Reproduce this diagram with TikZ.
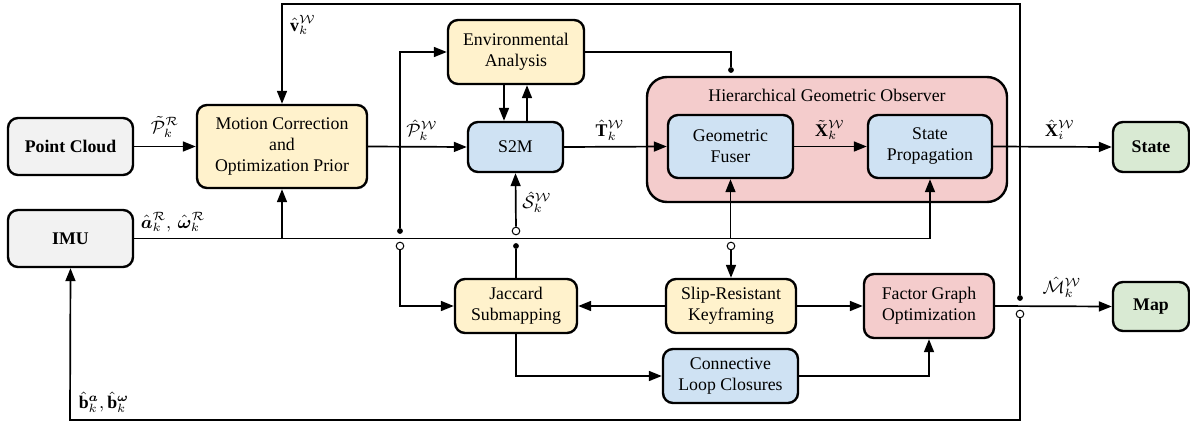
\documentclass[tikz,border=0pt]{standalone}
\usepackage{amsmath,bm}
\usepackage{fontspec}
\setmainfont{Liberation Serif}
\usetikzlibrary{arrows.meta,calc}
\definecolor{cgray}{HTML}{F2F2F2}
\definecolor{cyel}{HTML}{FFF2CC}
\definecolor{cblue}{HTML}{CFE2F3}
\definecolor{cpink}{HTML}{F4CCCC}
\definecolor{cgreen}{HTML}{D9EAD3}
\begin{document}
\begin{tikzpicture}[x=0.5pt,y=-0.5pt,
 box/.style={draw=black,line width=1.2pt,rounded corners=5pt,align=center,inner sep=0pt,font=\fontsize{8.9}{10.5}\selectfont},
 conn/.style={line width=0.85pt},
 arr/.style={conn,-{Triangle[length=6.5pt,width=5pt]}},
 fdot/.style={circle,fill=black,inner sep=0pt,minimum size=2.9pt},
 odot/.style={circle,draw=black,fill=white,line width=0.5pt,inner sep=0pt,minimum size=3.8pt},
 lbl/.style={font=\fontsize{8.9}{10.5}\selectfont,inner sep=0pt}]
\useasboundingbox (0,0) rectangle (1190,423);

% group
\node[box,fill=cpink,rounded corners=10pt,minimum width=180pt,minimum height=62.5pt] (hgo) at (827,139.5) {};
\node[lbl] (hgot) at (827,95) {Hierarchical Geometric Observer};

% nodes
\node[box,fill=cgray,minimum width=62.5pt,minimum height=28.5pt,font=\fontsize{8.9}{10.5}\selectfont\bfseries] (pc) at (70.5,146.5) {Point Cloud};
\node[box,fill=cgray,minimum width=62.5pt,minimum height=28.5pt,font=\fontsize{8.9}{10.5}\selectfont\bfseries] (imu) at (70.5,238.5) {IMU};
\node[box,fill=cyel,minimum width=85pt,minimum height=41.5pt] (mc) at (282,146.5) {Motion Correction\\and\\Optimization Prior};
\node[box,fill=cyel,minimum width=68pt,minimum height=32pt] (env) at (516,52) {Environmental\\Analysis};
\node[box,fill=cblue,minimum width=47.5pt,minimum height=25pt] (s2m) at (515.5,147) {S2M};
\node[box,fill=cblue,minimum width=62.5pt,minimum height=31.5pt] (gf) at (730.5,146.5) {Geometric\\Fuser};
\node[box,fill=cblue,minimum width=62pt,minimum height=31.5pt] (sp) at (930,146.5) {State\\Propagation};
\node[box,fill=cgreen,minimum width=38pt,minimum height=25pt,font=\fontsize{8.9}{10.5}\selectfont\bfseries] (state) at (1151,147) {State};
\node[box,fill=cyel,minimum width=61pt,minimum height=27pt] (jac) at (516,306) {Jaccard\\Submapping};
\node[box,fill=cyel,minimum width=65pt,minimum height=27pt] (slip) at (731,306) {Slip-Resistant\\Keyframing};
\node[box,fill=cblue,minimum width=67.5pt,minimum height=27pt] (clc) at (730.5,376) {Connective\\Loop Closures};
\node[box,fill=cpink,minimum width=65pt,minimum height=32pt] (fgo) at (929,306) {Factor Graph\\Optimization};
\node[box,fill=cgreen,minimum width=38pt,minimum height=24.5pt,font=\fontsize{8.9}{10.5}\selectfont\bfseries] (map) at (1151,306.5) {Map};

% junction dots
\node[fdot] (d1) at (1020,298) {};
\node[odot] (o1) at (1020,314) {};
\node[fdot] (d2) at (400,231) {};
\node[odot] (o2) at (400,246) {};
\node[odot] (o3) at (516,231) {};
\node[fdot] (d3) at (516,246) {};
\node[odot] (o4) at (731,246) {};
\node[fdot] (d4) at (731,70) {};

% helper coordinates
\coordinate (ytop) at (0,4);
\coordinate (ybot) at (0,420);
\coordinate (xa) at (504,0);
\coordinate (xb) at (527,0);
\coordinate (xl) at (70,0);

% connectors
\draw[arr] (pc.east) -- (mc.west);
\draw[arr] (d1) -- (d1 |- ytop) -- (mc.north |- ytop) -- (mc.north);
\draw[arr] (o1) -- (o1 |- ybot) -- (xl |- ybot) -- (imu.south);
\draw[arr] (imu.east) -- (sp.south |- imu.east) -- (sp.south);
\draw[arr] (mc.south |- imu.east) -- (mc.south);
\draw[arr] (mc.east) -- (s2m.west);
\draw[arr] (d2) -- (d2 |- env.west) -- (env.west);
\draw[conn] (env.east) -- (d4 |- env.east) -- (d4);
\draw[arr] (xa |- env.south) -- (xa |- s2m.north);
\draw[arr] (xb |- s2m.north) -- (xb |- env.south);
\draw[arr] (s2m.east) -- (gf.west);
\draw[arr] (gf.east) -- (sp.west);
\draw[arr] (sp.east) -- (state.west);
\draw[arr] (gf.south |- imu.east) -- (gf.south);
\draw[arr] (o4) -- (slip.north);
\draw[arr] (o2) -- (o2 |- jac.west) -- (jac.west);
\draw[arr] (o3) -- (s2m.south);
\draw[conn] (d3) -- (jac.north);
\draw[arr] (slip.west) -- (jac.east);
\draw[arr] (slip.east) -- (fgo.west);
\draw[arr] (fgo.east) -- (map.west);
\draw[arr] (jac.south) -- (jac.south |- clc.west) -- (clc.west);
\draw[arr] (clc.east) -- (fgo.south |- clc.east) -- (fgo.south);

% labels
\node[lbl] (lpt) at (165,127) {$\tilde{\mathcal{P}}_k^{\mathcal{R}}$};
\node[lbl] (lv) at (303,25) {$\hat{\mathbf{v}}_k^{\mathcal{W}}$};
\node[lbl] (lph) at (422,130) {$\hat{\mathcal{P}}_k^{\mathcal{W}}$};
\node[lbl] (lt) at (610,130) {$\hat{\mathbf{T}}_k^{\mathcal{W}}$};
\node[lbl] (ls) at (537,202) {$\hat{\mathcal{S}}_k^{\mathcal{W}}$};
\node[lbl] (lx) at (830,130) {$\tilde{\mathbf{X}}_k^{\mathcal{W}}$};
\node[lbl] (lxi) at (1060,130) {$\hat{\mathbf{X}}_i^{\mathcal{W}}$};
\node[lbl] (lm) at (1062,287) {$\hat{\mathcal{M}}_k^{\mathcal{W}}$};
\node[lbl] (law) at (173,222) {$\hat{\bm{a}}_k^{\mathcal{R}},\,\hat{\bm{\omega}}_k^{\mathcal{R}}$};
\node[lbl] (lb) at (104,402) {$\hat{\mathbf{b}}_k^{\bm{a}},\hat{\mathbf{b}}_k^{\bm{\omega}}$};
\end{tikzpicture}
\end{document}
